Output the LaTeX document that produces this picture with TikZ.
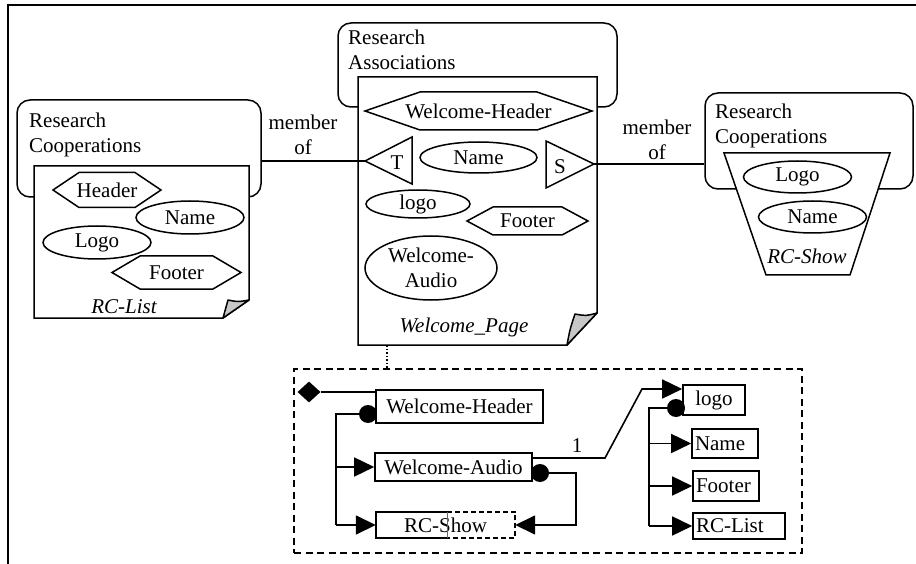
\documentclass[tikz,border=0pt]{standalone}
\usepackage{fontspec}
\setmainfont{Liberation Serif}
\usetikzlibrary{arrows.meta,shapes.geometric,calc}
\newcommand{\hexpath}[5]{\draw[ln, fill=white] ({#1-#3},#2) -- ({#1-#3+#5},{#2-#4}) -- ({#1+#3-#5},{#2-#4}) -- ({#1+#3},#2) -- ({#1+#3-#5},{#2+#4}) -- ({#1-#3+#5},{#2+#4}) -- cycle;}
\tikzset{
  txt/.style={font=\fontsize{21}{25}\selectfont, inner sep=0pt},
  ln/.style={line width=1.5pt, line join=miter},
  container/.style={draw, line width=1.5pt, rounded corners=13pt, inner sep=0pt},
  ell/.style={ellipse, draw, line width=1.5pt, fill=white, inner sep=0pt, font=\fontsize{21}{25}\selectfont},
  rbox/.style={draw, line width=1.6pt, inner sep=0pt, fill=white, font=\fontsize{21}{25}\selectfont},
  lbox/.style={draw, line width=1.6pt, inner xsep=3pt, inner ysep=0pt, align=left, fill=white, font=\fontsize{21}{25}\selectfont},
  dot/.style={circle, fill=black, inner sep=0pt, minimum size=18pt},
  arr/.style={line width=1.6pt, -{Triangle[length=20pt,width=19pt]}},
  conn/.style={line width=1.6pt},
  foldc/.style={fill=black!22, line width=1.5pt, line join=round},
}
\begin{document}
\begin{tikzpicture}[x=1pt,y=-1pt]
\useasboundingbox (0,0) rectangle (916,564);
% frame
\draw[line width=2.2pt] (8,564) -- (8,5) -- (916,5);

% ---------- left group ----------
\node[container, minimum width=244pt, minimum height=97pt] (rcL) at (139,148.5) {};
\node[txt, anchor=north west, align=left] (rcLlbl) at (29,113) {Research\\Cooperations};
\draw[ln, fill=white] (34,166) -- (249,166) -- (249,300) -- (223,318) -- (34,318) -- cycle;
\draw[foldc] (223,318) .. controls (225,309) .. (228,300) .. controls (238,302) .. (249,300) -- cycle;
\hexpath{107}{190}{54}{17.5}{26}
\node[txt] (lheader) at (107,190) {Header};
\node[ell, minimum width=108pt, minimum height=33pt] (lname) at (190,217.5) {Name};
\node[ell, minimum width=108pt, minimum height=33pt] (llogo) at (97,242.5) {Logo};
\hexpath{176.5}{272.5}{64.5}{16.5}{28}
\node[txt] (lfooter) at (176.5,272.5) {Footer};
\node[txt, font=\fontsize{21}{25}\selectfont\itshape] (rclist) at (124,307) {RC-List};

% ---------- middle group ----------
\node[container, minimum width=279pt, minimum height=84pt] (raM) at (477.5,65) {};
\node[txt, anchor=north west, align=left] (raMlbl) at (348,30) {Research\\Associations};
\draw[ln, fill=white] (358,77) -- (597,77) -- (597,313) -- (567,345) -- (358,345) -- cycle;
\draw[foldc] (567,345) .. controls (570,329) .. (575,314) .. controls (586,316) .. (597,313) -- cycle;
\hexpath{478.5}{111}{113.5}{19}{55}
\node[txt] (mwh) at (478.5,111) {Welcome-Header};
\coordinate (Ttip) at (365,161);
\draw[ln, fill=white] (Ttip) -- (412,137) -- (412,184) -- cycle;
\node[txt] (Tlbl) at (397,163) {T};
\node[ell, minimum width=117pt, minimum height=31pt] (mname) at (478.5,157.5) {Name};
\coordinate (Stip) at (594,164);
\draw[ln, fill=white] (Stip) -- (546,141) -- (546,188) -- cycle;
\node[txt] (Slbl) at (560,167) {S};
\node[ell, minimum width=104pt, minimum height=28pt] (mlogo) at (418,204) {logo};
\hexpath{527.5}{221}{60.5}{14}{26}
\node[txt] (mfooter) at (527.5,221) {Footer};
\node[ell, minimum width=132pt, minimum height=64pt, align=center] (maudio) at (431,268) {Welcome-\\Audio};
\node[txt, font=\fontsize{21}{25}\selectfont\itshape] (wpage) at (464,327) {Welcome\_Page};
\coordinate (pbot) at (387,345);

% ---------- right group ----------
\node[container, minimum width=208pt, minimum height=96pt] (rcR) at (809,141) {};
\node[txt, anchor=north west, align=left] (rcRlbl) at (715,104) {Research\\Cooperations};
\draw[ln, fill=white] (724,153) -- (890,153) -- (850,275) -- (766,275) -- cycle;
\node[ell, minimum width=108pt, minimum height=32pt] (rlogo) at (797.5,177) {Logo};
\node[ell, minimum width=108pt, minimum height=32pt] (rname) at (812.5,217) {Name};
\node[txt, font=\fontsize{21}{25}\selectfont\itshape] (rcshow) at (807,256) {RC-Show};

% ---------- member of connectors ----------
\draw[conn] (rcL.east |- Ttip) -- (Ttip);
\node[txt, align=center] (mof1) at (303,135) {member\\of};
\draw[conn] (Stip) -- (rcR.west |- Stip);
\node[txt, align=center] (mof2) at (657,140) {member\\of};

% ---------- lower dashed box ----------
\node[draw, line width=1.5pt, dash pattern=on 7pt off 4.5pt, minimum width=508pt, minimum height=184pt, inner sep=0pt] (dbox) at (548,461) {};
\draw[line width=1.3pt, dash pattern=on 1.5pt off 2pt] (pbot) -- (pbot |- dbox.north);

\node[diamond, fill=black, inner sep=0pt, minimum width=23pt, minimum height=21pt] (dia) at (309,392) {};
\node[rbox, minimum width=167pt, minimum height=33pt] (wh) at (459.5,406.5) {Welcome-Header};
\node[rbox, minimum width=157pt, minimum height=28pt] (wa) at (453.5,467) {Welcome-Audio};
\node[inner sep=0pt, minimum width=139pt, minimum height=26pt, font=\fontsize{21}{25}\selectfont] (rcs) at (445.5,525) {RC-Show};
\draw[line width=1.6pt] ($(rcs.north west)+(71,0)$) -- (rcs.north west) -- (rcs.south west) -- ($(rcs.south west)+(71,0)$);
\draw[line width=1.6pt, dash pattern=on 5pt off 3pt] ($(rcs.north west)+(71,0)$) -- (rcs.north east) -- (rcs.south east) -- ($(rcs.south west)+(71,0)$);
\draw[line width=0.5pt, black!60] ($(rcs.north west)+(71,0)$) -- ($(rcs.south west)+(71,0)$);

\draw[conn] (dia.east) -- (dia.east -| wh.west);
\coordinate (t1) at (336,414);
\coordinate (c1pos) at (368,414);
\draw[conn] (c1pos) -- (t1) -- (t1 |- rcs.west);
\draw[arr] (t1 |- wa.west) -- (wa.west);
\draw[arr] (t1 |- rcs.west) -- (rcs.west);
\node[dot] (c1) at (c1pos) {};

\coordinate (t2) at (576,473);
\draw[arr] (540,473) -- (t2) |- (rcs.east);
\node[dot] (c2) at (540,473) {};

\node[rbox, minimum width=62pt, minimum height=30pt] (logo) at (714,400) {logo};
\coordinate (k1) at (605,458);
\coordinate (k2) at (642,389);
\draw[arr] (wa.east |- k1) -- (k1) -- (k2) -- (k2 -| logo.west);
\node[txt] (one) at (577,446) {1};

\node[lbox, text width=60pt, minimum height=29pt] (bname) at (725,443.5) {Name};
\node[lbox, text width=60pt, minimum height=30pt] (bfooter) at (726,486) {Footer};
\node[lbox, text width=86pt, minimum height=26pt] (brclist) at (739,526) {RC-List};
\coordinate (t3) at (649,408);
\draw[conn] (676,408) -- (t3) -- (t3 |- brclist.west);
\draw[arr] (t3 |- bname.west) -- (bname.west);
\draw[arr] (t3 |- bfooter.west) -- (bfooter.west);
\draw[arr] (t3 |- brclist.west) -- (brclist.west);
\node[dot] (c3) at (676,408) {};
\end{tikzpicture}
\end{document}
